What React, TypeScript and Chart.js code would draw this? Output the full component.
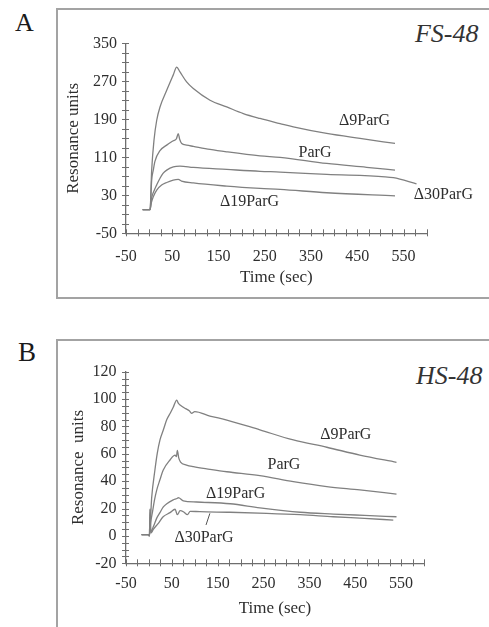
import React, { useEffect, useRef } from "react";
import { Chart, registerables } from "chart.js";

Chart.register(...registerables);

const SERIF = "'Liberation Serif', 'Times New Roman', serif";
const LINE_COLOR = "#808080";
const TEXT_COLOR = "#2e2e2e";
const AXIS_COLOR = "#6e6e6e";

// Shared time axis
const X_MIN = -50;
const X_MAX = 600;
const X_STEP = 25;
const X_LABELS = [-50, 50, 150, 250, 350, 450, 550];

// ---------- Panel A : FS-48 ----------
const A_Y_MIN = -50;
const A_Y_MAX = 350;
const A_Y_STEP = 20;
const A_Y_LABELS = [-50, 30, 110, 190, 270, 350];

const A_D9_T = [-14, 2, 5.5, 10.5, 16.4, 23.5, 38, 52, 59.6, 66.7, 81, 95.5, 131.6, 167.7, 203.6, 239.7, 283, 311.7, 383.8, 455.8, 531.5];
const A_D9_V = [0, 0, 83, 146, 188, 216, 251, 283, 300, 289.7, 268.7, 254.8, 230.2, 216.1, 202, 191.7, 181, 174, 160.2, 149.7, 139.2];

const A_PARG_T = [-14, 2, 5.5, 9, 12.7, 23.5, 38, 52.3, 59, 63, 66, 70.4, 81, 95.5, 131.6, 167.7, 239.7, 283, 384, 470, 531.5];
const A_PARG_V = [0, 0, 62, 83, 102, 124, 135.6, 145, 149, 160, 148, 139, 135.6, 133, 126.6, 121.5, 113, 110, 97, 89, 83];

const A_D30_T = [-14, 2, 5.5, 10, 16.4, 23.5, 30, 38, 52.3, 66.7, 95.5, 167.7, 239.7, 283, 384, 510, 528, 578];
const A_D30_V = [0, 0, 25, 38, 52, 66, 76, 83, 90, 91.5, 88.7, 84.5, 80.5, 79, 74, 69, 67, 54];

const A_D19_T = [-14, 2, 5, 9, 16.4, 27, 38, 52, 63, 70, 95.5, 167.7, 239.7, 283, 384, 531.5];
const A_D19_V = [0, 0, 15, 27, 41, 51.5, 57, 62, 63.5, 60, 56, 49.4, 44.6, 42.5, 35.4, 29];

const A_LABEL_TEXT = ["Δ9ParG", "ParG", "Δ19ParG", "Δ30ParG"];
const A_LABEL_T = [465.6, 358.6, 217, 636];
const A_LABEL_V = [186.7, 120.3, 16.4, 32];

// ---------- Panel B : HS-48 ----------
const B_Y_MIN = -20;
const B_Y_MAX = 120;
const B_Y_STEP = 5;
const B_Y_LABELS = [-20, 0, 20, 40, 60, 80, 100, 120];

const B_D9_T = [-16, -2, 1, 6, 13, 18, 24, 31, 39, 47, 53, 60.6, 64, 68, 80, 88, 93, 100, 133, 170, 242, 315, 388, 460, 540];
const B_D9_V = [1, 1, 0, 28, 48, 60, 70, 77, 85, 90, 94, 99.3, 97, 95.7, 93, 91.5, 89.6, 90.8, 87.6, 84.7, 77.5, 70.1, 64.8, 59.1, 53.8];

const B_PARG_T = [-16, -2, 1, 4, 8, 12, 17, 24, 31, 46, 57, 60, 62, 65, 69, 82, 97, 133, 170, 242, 315, 388, 460, 540];
const B_PARG_V = [1, 1, 0, 10, 18, 26, 33.5, 41, 48, 55.5, 59, 58, 62.5, 57, 54, 51.8, 50.6, 48.7, 46.9, 44, 39.6, 36, 33.6, 30.6];

const B_D19_T = [-16, -2, 1, 2.5, 4, 10, 17, 24, 31, 39, 53, 62, 64, 75, 104, 177, 242, 330, 402, 470, 540];
const B_D19_V = [1, 1, 0, 20, 3, 7, 13, 17, 21, 23.5, 26.3, 27.5, 28, 25.7, 24.8, 23.5, 20.5, 17.3, 16, 15, 14];

const B_D30_T = [-16, -2, 1, 2.5, 4, 10, 20, 31, 46, 57, 62, 68, 76, 84, 90, 111, 177, 257, 330, 402, 470, 533];
const B_D30_V = [1, 1, 0, 19, 2, 5, 9, 14, 17, 19.5, 15.5, 18.5, 17.5, 15.5, 18, 17.7, 17.3, 16.5, 15.5, 14, 12.8, 11.6];

const B_POINTER_T = [133, 124.5];
const B_POINTER_V = [16.5, 8];

const B_LABEL_TEXT = ["Δ9ParG", "ParG", "Δ19ParG", "Δ30ParG"];
const B_LABEL_T = [429.4, 294.6, 189.2, 120.1];
const B_LABEL_V = [73.8, 51.8, 31.1, -1.7];

function pts(t: number[], v: number[]) {
  return t.map((x, i) => ({ x, y: v[i] }));
}

function curve(t: number[], v: number[]) {
  return {
    data: pts(t, v),
    borderColor: LINE_COLOR,
    borderWidth: 1.3,
    pointRadius: 0,
    cubicInterpolationMode: "monotone" as const,
    fill: false,
  };
}

const crossTicks = {
  id: "crossTicks",
  afterDraw(chart: any, _args: any, opts: any) {
    const { ctx, chartArea, scales } = chart;
    const xs = scales.x;
    const ys = scales.y;
    ctx.save();
    ctx.strokeStyle = AXIS_COLOR;
    ctx.lineWidth = 1;
    ctx.beginPath();
    xs.ticks.forEach((t: any) => {
      const px = Math.round(xs.getPixelForValue(t.value)) + 0.5;
      ctx.moveTo(px, chartArea.bottom - 4);
      ctx.lineTo(px, chartArea.bottom + 3);
    });
    ys.ticks.forEach((t: any) => {
      const py = Math.round(ys.getPixelForValue(t.value)) + 0.5;
      ctx.moveTo(chartArea.left - 4, py);
      ctx.lineTo(chartArea.left + 3, py);
    });
    ctx.stroke();
    const texts: string[] = opts.texts || [];
    const tt: number[] = opts.t || [];
    const vv: number[] = opts.v || [];
    ctx.fillStyle = TEXT_COLOR;
    ctx.font = `16px ${SERIF}`;
    ctx.textAlign = "center";
    ctx.textBaseline = "middle";
    texts.forEach((s, i) => {
      ctx.fillText(s, xs.getPixelForValue(tt[i]), ys.getPixelForValue(vv[i]));
    });
    ctx.restore();
  },
};

interface PanelGeom {
  width: number;
  height: number;
  area: { left: number; right: number; top: number; bottom: number };
  yTitleX: number;
  yTickRight: number;
  xTickCenterY: number;
  xTitleY: number;
}

function makeConfig(
  g: PanelGeom,
  datasets: any[],
  yMin: number,
  yMax: number,
  yStep: number,
  yLabels: number[],
  yTitle: string,
  labels: { texts: string[]; t: number[]; v: number[] }
) {
  const tickSize = 16;
  const titleSize = 17;
  const titleLH = titleSize * 1.2;
  const tickLH = tickSize * 1.2;
  const yScaleLeft = g.yTitleX - titleLH / 2;
  const yWidth = g.area.left - yScaleLeft;
  const xScaleBottom = g.xTitleY + titleLH / 2;
  const xHeight = xScaleBottom - g.area.bottom;
  return {
    type: "line",
    data: { datasets },
    options: {
      animation: false,
      responsive: false,
      devicePixelRatio: 1,
      events: [],
      layout: {
        padding: {
          left: yScaleLeft,
          top: g.area.top,
          right: g.width - g.area.right,
          bottom: g.height - xScaleBottom,
        },
      },
      plugins: {
        legend: { display: false },
        tooltip: { enabled: false },
        crossTicks: labels,
      },
      scales: {
        x: {
          type: "linear",
          min: X_MIN,
          max: X_MAX,
          ticks: {
            stepSize: X_STEP,
            autoSkip: false,
            maxRotation: 0,
            padding: g.xTickCenterY - g.area.bottom - tickLH / 2,
            color: TEXT_COLOR,
            font: { family: SERIF, size: tickSize },
            callback: (v: number) => (X_LABELS.includes(Math.round(v)) ? String(Math.round(v)) : ""),
          },
          grid: { display: false, drawTicks: false },
          border: { display: true, color: AXIS_COLOR, width: 1.3 },
          title: {
            display: true,
            text: "Time (sec)",
            color: TEXT_COLOR,
            font: { family: SERIF, size: titleSize },
            padding: 0,
          },
          afterFit: (s: any) => {
            s.height = xHeight;
          },
        },
        y: {
          type: "linear",
          min: yMin,
          max: yMax,
          ticks: {
            stepSize: yStep,
            autoSkip: false,
            padding: g.area.left - g.yTickRight,
            color: TEXT_COLOR,
            font: { family: SERIF, size: tickSize },
            callback: (v: number) => (yLabels.includes(Math.round(v)) ? String(Math.round(v)) : ""),
          },
          grid: { display: false, drawTicks: false },
          border: { display: true, color: AXIS_COLOR, width: 1.3 },
          title: {
            display: true,
            text: yTitle,
            color: TEXT_COLOR,
            font: { family: SERIF, size: titleSize },
            padding: 0,
          },
          afterFit: (s: any) => {
            s.width = yWidth;
          },
        },
      },
    },
    plugins: [crossTicks],
  };
}

const GEOM_A: PanelGeom = {
  width: 489,
  height: 300,
  area: { left: 126, right: 426.7, top: 43.3, bottom: 233.3 },
  yTitleX: 74,
  yTickRight: 117,
  xTickCenterY: 256.7,
  xTitleY: 277.3,
};

const B_TOP = 320;
const GEOM_B: PanelGeom = {
  width: 489,
  height: 307,
  area: { left: 126, right: 424, top: 371.7 - B_TOP, bottom: 563.3 - B_TOP },
  yTitleX: 78.3,
  yTickRight: 116.5,
  xTickCenterY: 583.3 - B_TOP,
  xTitleY: 608.3 - B_TOP,
};

function ChartCanvas({ config, top, width, height }: { config: () => any; top: number; width: number; height: number }) {
  const ref = useRef<HTMLCanvasElement | null>(null);
  useEffect(() => {
    if (!ref.current) return;
    const chart = new Chart(ref.current, config());
    return () => chart.destroy();
  }, []);
  return (
    <canvas
      ref={ref}
      width={width}
      height={height}
      style={{ position: "absolute", left: 0, top, width, height }}
    />
  );
}

export default function App() {
  const cfgA = () =>
    makeConfig(
      GEOM_A,
      [curve(A_D9_T, A_D9_V), curve(A_PARG_T, A_PARG_V), curve(A_D30_T, A_D30_V), curve(A_D19_T, A_D19_V)],
      A_Y_MIN,
      A_Y_MAX,
      A_Y_STEP,
      A_Y_LABELS,
      "Resonance units",
      { texts: A_LABEL_TEXT, t: A_LABEL_T, v: A_LABEL_V }
    );
  const cfgB = () =>
    makeConfig(
      GEOM_B,
      [
        curve(B_D9_T, B_D9_V),
        curve(B_PARG_T, B_PARG_V),
        curve(B_D19_T, B_D19_V),
        curve(B_D30_T, B_D30_V),
        { data: pts(B_POINTER_T, B_POINTER_V), borderColor: "#555", borderWidth: 1, pointRadius: 0, fill: false },
      ],
      B_Y_MIN,
      B_Y_MAX,
      B_Y_STEP,
      B_Y_LABELS,
      "Resonance  units",
      { texts: B_LABEL_TEXT, t: B_LABEL_T, v: B_LABEL_V }
    );

  const letter: React.CSSProperties = {
    position: "absolute",
    fontFamily: SERIF,
    color: "#1a1a1a",
    lineHeight: 1,
    margin: 0,
  };
  const tag: React.CSSProperties = {
    position: "absolute",
    fontFamily: SERIF,
    fontStyle: "italic",
    fontSize: 26,
    lineHeight: 1,
    color: "#333",
    width: 100,
    textAlign: "center",
  };

  return (
    <div
      style={{
        position: "absolute",
        left: 0,
        top: 0,
        width: 489,
        height: 627,
        overflow: "hidden",
        background: "#fff",
      }}
    >
      <div
        style={{
          position: "absolute",
          left: 56,
          top: 8,
          width: 445,
          height: 291,
          boxSizing: "border-box",
          border: "2px solid #a3a3a3",
        }}
      />
      <div
        style={{
          position: "absolute",
          left: 56,
          top: 338.5,
          width: 445,
          height: 300,
          boxSizing: "border-box",
          border: "2px solid #a3a3a3",
        }}
      />
      <div style={{ ...letter, left: 15, top: 10.2, fontSize: 26 }}>A</div>
      <div style={{ ...letter, left: 18, top: 339.4, fontSize: 27 }}>B</div>
      <div style={{ ...tag, left: 396.7, top: 20.8 }}>FS-48</div>
      <div style={{ ...tag, left: 399.2, top: 363 }}>HS-48</div>
      <ChartCanvas config={cfgA} top={0} width={489} height={300} />
      <ChartCanvas config={cfgB} top={B_TOP} width={489} height={307} />
    </div>
  );
}
